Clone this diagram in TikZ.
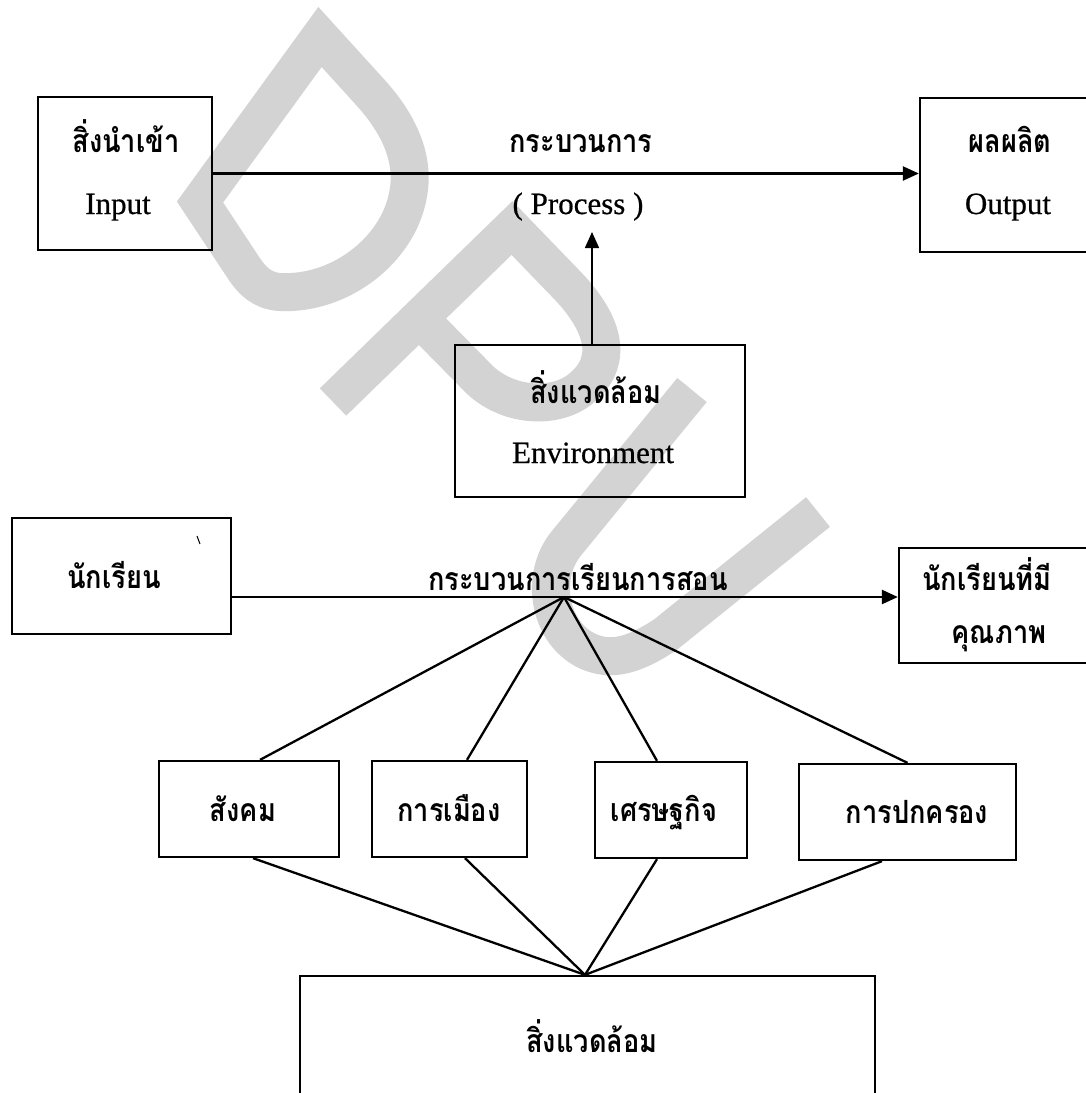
\documentclass[tikz,border=0pt]{standalone}
\usepackage{fontspec}
\setmainfont{Liberation Serif}
\newfontfamily\latn[FakeBold=0.6]{Liberation Serif}
\newfontfamily\thai[Script=Thai,FakeStretch=0.85]{Loma}
\usetikzlibrary{arrows.meta,calc}
\definecolor{wmgray}{RGB}{211,211,211}
\tikzset{
  box/.style={draw, line width=2.3pt, inner sep=0pt},
  conn/.style={line width=2.3pt},
  arr/.style={line width=2.3pt, -{Triangle[length=16pt,width=14pt]}},
  thin arr/.style={line width=1.6pt, -{Triangle[length=16pt,width=14pt]}},
  th/.style={font=\thai\bfseries\fontsize{32}{36}\selectfont, anchor=base, inner sep=0pt},
  la/.style={font=\latn\fontsize{31}{34}\selectfont, anchor=base, inner sep=0pt},
  wm/.style={draw=wmgray, line width=38pt, line cap=butt, line join=miter}
}
\begin{document}
\begin{tikzpicture}[x=1pt,y=-1pt]
\useasboundingbox (0,0) rectangle (1085,1093);
% watermark
\draw[wm] (320,37) -- (370,92) .. controls (400,125) and (415,160) .. (408,195)
  .. controls (398,250) and (340,295) .. (280,292) .. controls (262,291) and (252,280) .. (245,270) -- (200,202) -- cycle;
\draw[wm] (333,402) -- (512,228) -- (568,286) .. controls (605,325) and (612,360) .. (585,385)
  .. controls (560,410) and (510,408) .. (480,380) -- (419,318);
\draw[wm] (692,390) -- (565,545) .. controls (535,585) and (555,650) .. (605,656)
  .. controls (625,658) and (645,648) .. (665,635) -- (818,512);
% upper diagram
\node[box, minimum width=174pt, minimum height=153pt] (inp) at (125,173.5) {};
\node[box, minimum width=180pt, minimum height=154pt] (out) at (1010,175) {};
\node[box, minimum width=290pt, minimum height=152pt] (env) at (600,421) {};
\node[th] (inpT) at (126,152) {สิ่งนำเข้า};
\node[la] (inpL) at (118,214) {Input};
\node[th] (outT) at (1010,152) {ผลผลิต};
\node[la] (outL) at (1008,214) {Output};
\node[th] (procT) at (581,152) {กระบวนการ};
\node[la] (procL) at (578,214) {( Process )};
\node[th] (envT) at (596,403) {สิ่งแวดล้อม};
\node[la] (envL) at (593,463) {Environment};
\draw[arr] (inp.east) -- (inp.east -| out.west);
\coordinate (ptip) at (592,232);
\draw[thin arr] (env.north -| ptip) -- (ptip);
% lower diagram
\node[box, minimum width=219pt, minimum height=116pt] (stu) at (121.5,576) {};
\node[box, minimum width=201pt, minimum height=115pt] (qual) at (999.5,605.5) {};
\node[box, minimum width=180pt, minimum height=96pt] (soc) at (249,809) {};
\node[box, minimum width=155pt, minimum height=96pt] (pol) at (449.5,809) {};
\node[box, minimum width=152pt, minimum height=96pt] (eco) at (671,810) {};
\node[box, minimum width=217pt, minimum height=96pt] (gov) at (907.5,812) {};
\node[box, minimum width=575pt, minimum height=150pt] (env2) at (587.5,1051) {};
\node[th] (stuT) at (114,588) {นักเรียน};
\node[th] (lpT) at (578,590) {กระบวนการเรียนการสอน};
\node[th] (qualT1) at (987,590) {นักเรียนที่มี};
\node[th] (qualT2) at (999,643) {คุณภาพ};
\node[th] (socT) at (243,821) {สังคม};
\node[th] (polT) at (449,821) {การเมือง};
\node[th] (ecoT) at (664,821) {เศรษฐกิจ};
\node[th] (govT) at (917,823) {การปกครอง};
\node[th] (env2T) at (592,1052) {สิ่งแวดล้อม};
\coordinate (hub) at (564,597);
\draw[arr] (stu.east |- hub) -- (qual.west |- hub);
\draw[line width=1pt] (197,536) -- (200,544);
\draw[conn] (hub) -- ([xshift=11pt]soc.north);
\draw[conn] (hub) -- ([xshift=17.5pt]pol.north);
\draw[conn] (hub) -- ([xshift=-14pt]eco.north);
\draw[conn] (hub) -- (gov.north);
\coordinate (bot) at ([xshift=-2.5pt]env2.north);
\draw[conn] ([xshift=4pt]soc.south) -- (bot);
\draw[conn] ([xshift=15.5pt]pol.south) -- (bot);
\draw[conn] ([xshift=-14pt]eco.south) -- (bot);
\draw[conn] ([xshift=-25.5pt]gov.south) -- (bot);
\end{tikzpicture}
\end{document}
